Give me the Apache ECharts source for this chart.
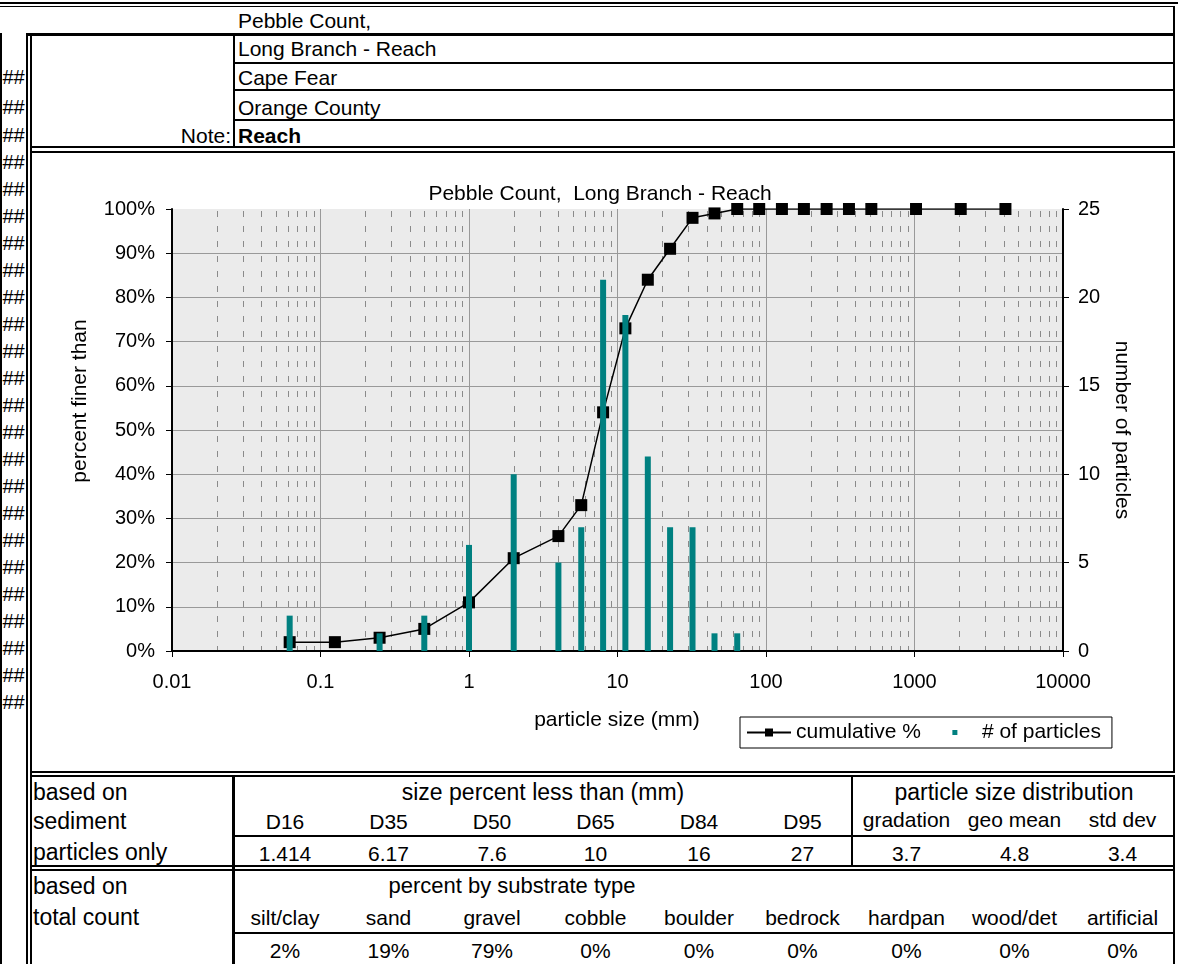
<!DOCTYPE html>
<html>
<head>
<meta charset="utf-8">
<title>Pebble Count, Long Branch - Reach</title>
<script src="https://cdn.jsdelivr.net/npm/echarts@6/dist/echarts.min.js"></script>
<style>
  html, body { margin: 0; padding: 0; background: #fff; }
  #page { position: relative; width: 1178px; height: 964px; overflow: hidden;
          font-family: "Liberation Sans", Arial, sans-serif; color: #000; }
  .ln { position: absolute; background: #000; }
  .tx { position: absolute; white-space: nowrap; line-height: 1; }
  #chart { position: absolute; left: 0; top: 0; width: 1178px; height: 964px; }
</style>
</head>
<body>
<div id="page"><div id="sheet"></div><div id="chart"></div></div>
<script>
// ---- pebble count data ----
const sizes = [0.062, 0.125, 0.25, 0.5, 1, 2, 4, 5.7, 8, 11.3, 16, 22.6, 32, 45, 64,
               90, 128, 180, 256, 362, 512, 1024, 2048, 4096];
const cumulativePct = [2, 2, 3, 5, 11, 21, 26, 33, 54, 73, 84, 91, 98, 99, 100,
                       100, 100, 100, 100, 100, 100, 100, 100, 100];
const particleCounts = [2, 0, 1, 2, 6, 10, 5, 7, 21, 19, 11, 7, 7, 1, 1,
                        0, 0, 0, 0, 0, 0, 0, 0, 0];

// ---- axis tick labels ----
const xTickLabels = ['0.01', '0.1', '1', '10', '100', '1000', '10000'];
const minorDecades = [0.01, 0.1, 1, 10, 100, 1000];
const minorSteps = [2, 3, 4, 5, 6, 7, 8, 9];

// ---- header and summary table text ----
const headerLines = ['Pebble Count,', 'Long Branch - Reach', 'Cape Fear', 'Orange County'];
const noteLabel = 'Note:';
const noteText = 'Reach';
const sizeClasses = ['D16', 'D35', 'D50', 'D65', 'D84', 'D95'];
const sizeValues = ['1.414', '6.17', '7.6', '10', '16', '27'];
const distLabels = ['gradation', 'geo mean', 'std dev'];
const distValues = ['3.7', '4.8', '3.4'];
const substrateTypes = ['silt/clay', 'sand', 'gravel', 'cobble', 'boulder', 'bedrock',
                        'hardpan', 'wood/det', 'artificial'];
const substratePct = ['2%', '19%', '79%', '0%', '0%', '0%', '0%', '0%', '0%'];

const FONT = '"Liberation Sans", Arial, sans-serif';
const sheet = document.getElementById('sheet');

function rule(x, y, w, h) {
  const d = document.createElement('div');
  d.className = 'ln';
  d.style.cssText = `left:${x}px;top:${y}px;width:${w}px;height:${h}px;`;
  sheet.appendChild(d);
}
function text(str, x, y, align, size, bold) {
  const d = document.createElement('div');
  d.className = 'tx';
  d.textContent = str;
  const tx = align === 'center' ? '-50%' : align === 'right' ? '-100%' : '0';
  d.style.cssText = `left:${x}px;top:${y}px;font-size:${size}px;` +
    `transform:translate(${tx},-50%);` + (bold ? 'font-weight:bold;' : '');
  sheet.appendChild(d);
}

// worksheet cell borders
[
  [0, 2, 1178, 2], [0, 6, 1175, 1], [1173, 6, 2, 141],
  [26, 33, 1149, 3], [0, 33, 2, 931], [26, 33, 2, 931], [30, 33, 2, 931],
  [233, 36, 2, 110], [235, 62, 940, 2], [235, 89, 940, 2], [235, 119, 940, 2],
  [30, 146, 1145, 2],
  [30, 151, 1145, 2], [1173, 151, 2, 622], [30, 771, 1145, 2],
  [30, 775, 1145, 2], [1173, 775, 2, 189], [232, 775, 3, 189], [851, 775, 2, 92],
  [235, 835, 940, 2], [30, 865, 1145, 2], [30, 869, 1145, 2], [235, 932, 940, 2]
].forEach(r => rule(...r));

// header block
const headerY = [20, 48, 76.5, 106.5];
headerLines.forEach((s, i) => text(s, 238, headerY[i], 'left', 21));
text(noteLabel, 231, 134.5, 'right', 21);
text(noteText, 238, 134.5, 'left', 21, true);

// overflowing narrow column
const hashY = [76.5, 106.5, 134.5];
for (let k = 1; k <= 21; k++) hashY.push(134.5 + 27 * k);
hashY.forEach(y => text('##', 2.5, y, 'left', 20));

// summary tables
const colX = [285, 388.5, 492, 595.5, 699, 802.5, 906.5, 1014.5, 1122.5];
text('based on', 33, 791.5, 'left', 23);
text('sediment', 33, 820.5, 'left', 23);
text('particles only', 33, 852, 'left', 23);
text('based on', 33, 886, 'left', 23);
text('total count', 33, 917, 'left', 23);
text('size percent less than (mm)', 543, 791.5, 'center', 23);
text('particle size distribution', 1014, 791.5, 'center', 23);
sizeClasses.forEach((s, i) => text(s, colX[i], 821, 'center', 21));
sizeValues.forEach((s, i) => text(s, colX[i], 852.5, 'center', 21));
distLabels.forEach((s, i) => text(s, colX[6 + i], 818.5, 'center', 21));
distValues.forEach((s, i) => text(s, colX[6 + i], 852.5, 'center', 21));
text('percent by substrate type', 512, 886, 'center', 22);
substrateTypes.forEach((s, i) => text(s, colX[i], 916.5, 'center', 21));
substratePct.forEach((s, i) => text(s, colX[i], 950, 'center', 21));

// ---- chart ----
const minorTicks = [];
minorDecades.forEach(d => minorSteps.forEach(m => minorTicks.push([d * m, 50])));

const chart = echarts.init(document.getElementById('chart'), null, { renderer: 'canvas' });
const axisText = { color: '#000', fontSize: 20, fontFamily: FONT };

chart.setOption({
  animation: false,
  backgroundColor: 'transparent',
  grid: { left: 172, top: 209, width: 891, height: 442, show: true,
          backgroundColor: '#ebebeb', borderWidth: 0 },
  xAxis: [
    {
      type: 'log', logBase: 10, min: 0.01, max: 10000, position: 'bottom',
      axisLine: { show: true, lineStyle: { color: '#000', width: 2 } },
      axisTick: { show: true, length: 6, lineStyle: { color: '#000', width: 1 } },
      axisLabel: { ...axisText, margin: 21,
        formatter: v => xTickLabels[Math.round(Math.log10(v)) + 2] },
      splitLine: { show: true, showMinLine: false, showMaxLine: false,
                   lineStyle: { color: '#999', width: 1 } },
      minorTick: { show: false }, minorSplitLine: { show: false }
    },
    {
      type: 'log', logBase: 10, min: 0.01, max: 10000, position: 'top',
      axisLine: { show: true, lineStyle: { color: '#000', width: 2 } },
      axisTick: { show: false }, axisLabel: { show: false }, splitLine: { show: false }
    }
  ],
  yAxis: [
    {
      type: 'value', min: 0, max: 100, interval: 10, position: 'left',
      axisLine: { show: true, lineStyle: { color: '#000', width: 2 } },
      axisTick: { show: true, length: 6, lineStyle: { color: '#000', width: 1 } },
      axisLabel: { ...axisText, margin: 17, formatter: '{value}%' },
      splitLine: { show: true, showMinLine: false, showMaxLine: false,
                   lineStyle: { color: '#999', width: 1 } }
    },
    {
      type: 'value', min: 0, max: 25, interval: 5, position: 'right',
      axisLine: { show: true, lineStyle: { color: '#000', width: 2 } },
      axisTick: { show: true, length: 6, lineStyle: { color: '#000', width: 1 } },
      axisLabel: { ...axisText, margin: 15 },
      splitLine: { show: false }
    }
  ],
  legend: {
    left: 740, top: 717, padding: [5, 11, 5, 6],
    borderColor: '#000', borderWidth: 1, backgroundColor: '#fff',
    itemWidth: 44, itemHeight: 10, itemGap: 12, selectedMode: false,
    textStyle: { color: '#000', fontSize: 21, fontFamily: FONT },
    data: [
      { name: 'cumulative %' },
      { name: '# of particles', itemStyle: { borderWidth: 0 },
        icon: 'path://M0,0L0,10M44,0L44,10M19.5,2.5H24.5V7.5H19.5Z' }
    ]
  },
  graphic: [
    { type: 'text', x: 600, y: 194, silent: true,
      style: { text: 'Pebble Count,  Long Branch - Reach', fill: '#000',
               font: `21px ${FONT}`, align: 'center', verticalAlign: 'middle' } },
    { type: 'text', x: 80, y: 401, rotation: Math.PI / 2, silent: true,
      style: { text: 'percent finer than', fill: '#000',
               font: `21px ${FONT}`, align: 'center', verticalAlign: 'middle' } },
    { type: 'text', x: 1122, y: 430, rotation: -Math.PI / 2, silent: true,
      style: { text: 'number of particles', fill: '#000',
               font: `21px ${FONT}`, align: 'center', verticalAlign: 'middle' } },
    { type: 'text', x: 617, y: 720, silent: true,
      style: { text: 'particle size (mm)', fill: '#000',
               font: `21px ${FONT}`, align: 'center', verticalAlign: 'middle' } }
  ],
  series: [
    {
      name: 'minor grid', type: 'custom', xAxisIndex: 0, yAxisIndex: 0,
      silent: true, z: 1, encode: { x: 0, y: 1 }, data: minorTicks,
      renderItem: function (params, api) {
        const cs = params.coordSys;
        const x = Math.round(api.coord([api.value(0), 50])[0]) + 0.5;
        return {
          type: 'line',
          shape: { x1: x, y1: cs.y + 2, x2: x, y2: cs.y + cs.height - 1 },
          style: { stroke: '#8a8a8a', lineWidth: 1, lineDash: [6, 9] }
        };
      }
    },
    {
      name: 'cumulative %', type: 'line', xAxisIndex: 0, yAxisIndex: 0, z: 3,
      data: sizes.map((s, i) => [s, cumulativePct[i]]),
      symbol: 'rect', symbolSize: 12, showAllSymbol: true,
      lineStyle: { color: '#000', width: 1.5 },
      itemStyle: { color: '#000' }
    },
    {
      name: '# of particles', type: 'bar', xAxisIndex: 0, yAxisIndex: 1, z: 4,
      barWidth: 6,
      data: sizes.map((s, i) => [s, particleCounts[i]]),
      itemStyle: { color: '#008080' }
    }
  ]
});
</script>
</body>
</html>
